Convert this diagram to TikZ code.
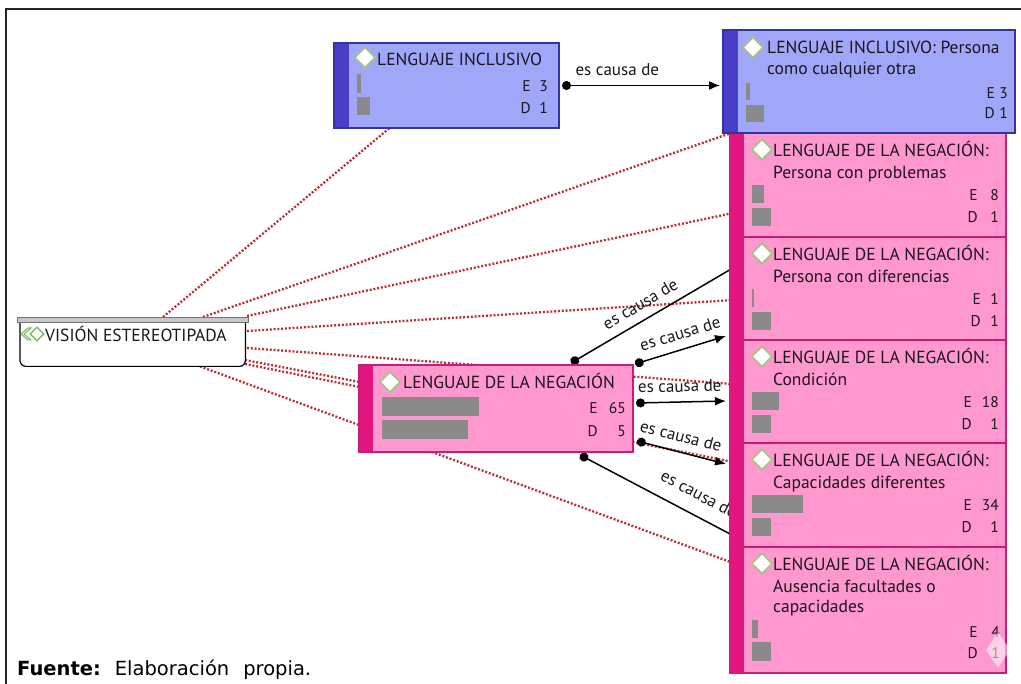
\documentclass[tikz,border=0pt]{standalone}
\usepackage{fontspec}
\setmainfont{PT Sans}
\newfontfamily\verd{DejaVu Sans}
\usetikzlibrary{arrows.meta,shapes.geometric,calc,backgrounds}
\definecolor{bfill}{RGB}{160,166,248}
\definecolor{bstripe}{RGB}{72,62,200}
\definecolor{bline}{RGB}{52,50,160}
\definecolor{pfill}{RGB}{255,152,206}
\definecolor{pstripe}{RGB}{226,22,128}
\definecolor{pline}{RGB}{196,30,118}
\definecolor{bargray}{RGB}{138,138,138}
\definecolor{dotred}{RGB}{185,48,48}
\definecolor{dgreen}{RGB}{165,195,135}
\definecolor{igreen}{RGB}{110,185,80}
\definecolor{txt}{RGB}{28,20,30}
\tikzset{
 boxB/.style={draw=bline, fill=bfill, line width=1.2pt, anchor=north west, inner sep=0pt, outer sep=0pt},
 boxP/.style={draw=pline, fill=pfill, line width=1.2pt, anchor=north west, inner sep=0pt, outer sep=0pt},
 ttl/.style={anchor=base west, font=\fontsize{17.5}{20}\selectfont, text=txt, inner sep=0pt},
 numtxt/.style={anchor=base east, font=\fontsize{15.5}{17}\selectfont, text=txt, inner sep=0pt},
 icon/.style={diamond, draw=dgreen, fill=white, line width=1.8pt, minimum width=21pt, minimum height=21pt, inner sep=0pt},
 redot/.style={dotred, line width=2.3pt, dash pattern=on 2pt off 1.8pt},
 causa/.style={black, line width=1.5pt, {Circle[length=9pt]}-{Latex[length=11pt,width=9pt]}},
 causa0/.style={black, line width=1.5pt, {Circle[length=9pt]}-},
 lbl/.style={font=\fontsize{17}{19}\selectfont, text=txt, sloped, anchor=south, inner xsep=0pt, inner ysep=9pt}
}
\newcommand\negbox[8]{%
 \node[boxP, minimum width=276pt, minimum height=#3pt] (#1) at (730,#2) {};
 \node[icon] (#1i) at (762,#2+16.5) {};
 \node[ttl] (#1t) at (773,#2+24) {LENGUAJE DE LA NEGACIÓN:};
 \node[ttl] (#1s) at (773,#2+45.5) {#4};
 \fill[bargray] (752,#2+52.5) rectangle (752+#5,#2+70.5);
 \fill[bargray] (752,#2+75) rectangle (771,#2+93);
 \node[numtxt] (#1el) at (#7,#2+68) {E};
 \node[numtxt] (#1en) at (#8,#2+68) {#6};
 \node[numtxt] (#1dl) at (#7,#2+90) {D};
 \node[numtxt] (#1dn) at (#8,#2+90) {1};
}
\begin{document}
\begin{tikzpicture}[x=1pt,y=-1pt]
\useasboundingbox (0,0) rectangle (1021,684);
\draw[line width=2pt, black!85] (6,684) -- (6,9) -- (1021,9);

% ---------- pink column ----------
\negbox{pa}{133}{104}{Persona con problemas}{12}{8}{978}{999}
\negbox{pb}{237}{103}{Persona con diferencias}{2}{1}{981}{999}
\negbox{pc}{340}{103}{Condición}{27}{18}{972}{999}
\negbox{pd}{443}{104}{Capacidades diferentes}{51}{34}{972}{999}
\node[boxP, minimum width=276pt, minimum height=126pt] (pe) at (730,547) {};
\node[icon] (pei) at (762,563.5) {};
\node[ttl] (pet) at (773,571) {LENGUAJE DE LA NEGACIÓN:};
\node[ttl] (pes) at (773,592.5) {Ausencia facultades o};
\node[ttl] (pes2) at (773,612.5) {capacidades};
\fill[bargray] (752,620) rectangle (758,638);
\fill[bargray] (752,642) rectangle (771,661);
\node[numtxt] (peel) at (978,637.5) {E};
\node[numtxt] (peen) at (1000,637.5) {4};
\node[numtxt] (pedl) at (978,658.5) {D};
\node[numtxt] (pedn) at (1000,658.5) {1};
\fill[pstripe] (pa.north west) rectangle ($(pe.south west)+(14,0)$);
\node[diamond, fill=white, opacity=0.55, minimum width=24pt, minimum height=36pt, inner sep=0pt] (wm) at (998,650) {};

% ---------- top right blue ----------
\node[boxB, minimum width=292pt, minimum height=103pt] (tr) at (723,30) {};
\fill[bstripe] (tr.north west) rectangle ($(tr.south west)+(15,0)$);
\draw[bline, line width=1.2pt] (tr.north west) rectangle (tr.south east);
\node[icon] (tri) at (753,47.5) {};
\node[ttl] (trt) at (767,53.5) {LENGUAJE INCLUSIVO: Persona};
\node[ttl] (trs) at (767,74.5) {como cualquier otra};
\fill[bargray] (746,83.5) rectangle (750,100);
\fill[bargray] (746,105) rectangle (764,122);
\node[numtxt] (trel) at (995,98.5) {E};
\node[numtxt] (tren) at (1008,98.5) {3};
\node[numtxt] (trdl) at (995,118.5) {D};
\node[numtxt] (trdn) at (1008,118.5) {1};

% ---------- top left blue ----------
\node[boxB, minimum width=225pt, minimum height=85pt] (tl) at (334,43) {};
\fill[bstripe] (tl.north west) rectangle ($(tl.south west)+(15,0)$);
\draw[bline, line width=1.2pt] (tl.north west) rectangle (tl.south east);
\node[icon] (tli) at (365,57.5) {};
\node[ttl] (tlt) at (377,66) {LENGUAJE INCLUSIVO};
\fill[bargray] (357,74.5) rectangle (361,93.5);
\fill[bargray] (357,97) rectangle (370,115);
\node[numtxt] (tlel) at (531,91.5) {E};
\node[numtxt] (tlen) at (548,91.5) {3};
\node[numtxt] (tldl) at (531,113.5) {D};
\node[numtxt] (tldn) at (548,113.5) {1};

% ---------- middle pink ----------
\node[boxP, minimum width=274pt, minimum height=87pt] (mid) at (359,365) {};
\fill[pstripe] (mid.north west) rectangle ($(mid.south west)+(14,0)$);
\draw[pline, line width=1.2pt] (mid.north west) rectangle (mid.south east);
\node[icon] (midi) at (390,382) {};
\node[ttl] (midt) at (403,388.5) {LENGUAJE DE LA NEGACIÓN};
\fill[bargray] (382,397) rectangle (479,416);
\fill[bargray] (382,420) rectangle (468,439);
\node[numtxt] (midel) at (598,413.5) {E};
\node[numtxt] (miden) at (626,413.5) {65};
\node[numtxt] (middl) at (598,436.5) {D};
\node[numtxt] (middn) at (626,436.5) {5};

% ---------- vision ----------
\node[anchor=north west, minimum width=225pt, minimum height=44pt, inner sep=0pt] (vis) at (20,322) {};
\draw[black, fill=white, line width=1.2pt, rounded corners=6pt] (vis.north west) -- (vis.south west) -- (vis.south east) -- (vis.north east);
\draw[black!55, fill=black!22, line width=0.8pt] ($(vis.north west)+(-3,-5)$) rectangle ($(vis.north east)+(3,0)$);
\draw[igreen, line width=1pt, fill=white] (28,328) -- (21,334) -- (28,340) -- (31,340) -- (24,334) -- (31,328) -- cycle;
\node[diamond, draw=igreen, line width=1.2pt, minimum width=14pt, minimum height=14pt, inner sep=0pt] (visi) at (37,334) {};
\node[ttl] (vist) at (45,341.5) {VISIÓN ESTEREOTIPADA};

% ---------- fuente ----------
\node[anchor=base west, inner sep=0pt, font=\verd\fontsize{19.5}{22}\selectfont] (fuente) at (17,675) {\textbf{Fuente:}\hspace{14pt}Elaboración\hspace{14pt}propia.};

% ---------- connectors (behind boxes) ----------
\begin{scope}[on background layer]
\draw[redot] ($(vis.north west)+(143,-5)$) -- ($(tl.south west)+(58,-2)$);
\draw[redot] ($(vis.north west)+(183,-5)$) -- ($(pa.north west)+(1,0)$);
\draw[redot] ($(vis.north west)+(227,-6)$) -- ($(pa.west)+(3,28)$);
\draw[redot] ($(vis.north west)+(227,9)$) -- ($(pb.west)+(3,11.5)$);
\draw[redot] ($(vis.north west)+(227,26)$) -- ($(pc.west)+(3,-7.5)$);
\draw[redot] ($(vis.north west)+(225,38)$) -- ($(mid.west)+(3,-26)$);
\draw[redot] ($(vis.north west)+(225,42)$) -- ($(pd.west)+(3,-33)$);
\draw[redot] ($(vis.south west)+(180,0)$) -- ($(pe.west)+(3,-47)$);

\draw[causa] ($(tl.east)+(3,0)$) -- ($(tr.west)+(-3,4)$) node[lbl, pos=0.35] (c1) {es causa de};
\draw[causa0] ($(mid.north)+(75,-2)$) -- ($(pb.west)+(2,-20)$) node[lbl, pos=0.48] (c2) {es causa de};
\draw[causa] ($(mid.north east)+(2,-1)$) -- ($(pb.south west)+(-4,-4)$) node[lbl, pos=0.545] (c3) {es causa de};
\draw[causa] ($(mid.east)+(3,-5.5)$) -- ($(pc.west)+(-4,9.5)$) node[lbl, pos=0.49] (c4) {es causa de};
\draw[causa] ($(mid.south east)+(4,-11)$) -- ($(pd.north west)+(-4,21)$) node[lbl, pos=0.45] (c5) {es causa de};
\draw[causa0] ($(mid.south)+(84,3)$) -- ($(pd.south west)+(2,-12)$) node[lbl, pos=0.72, inner ysep=14pt] (c6) {es causa de};
\end{scope}
\end{tikzpicture}
\end{document}
